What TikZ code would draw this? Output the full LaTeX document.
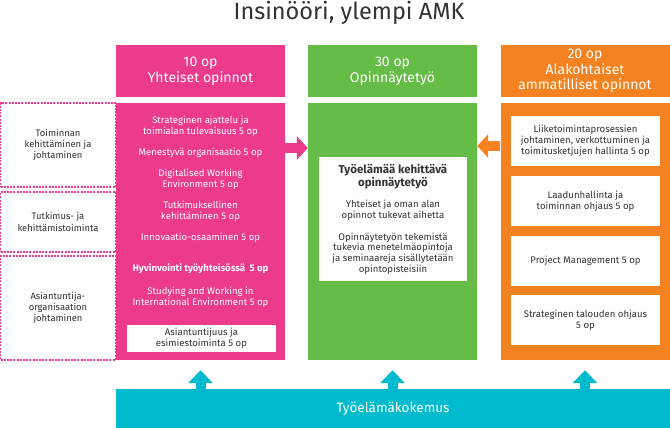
\documentclass[tikz,border=0pt]{standalone}
\usepackage{fontspec}
\setmainfont{Fira Sans}
\usepackage{tikz}
\usetikzlibrary{arrows.meta,positioning}
\definecolor{hpink}{HTML}{EC3A8C}
\definecolor{hgreen}{HTML}{65BC46}
\definecolor{horange}{HTML}{F58220}
\definecolor{hcyan}{HTML}{00BBCD}
\definecolor{txtgray}{HTML}{333333}
\tikzstyle{col}=[rectangle, inner sep=0pt, minimum width=169pt, text=white, align=center]
\tikzstyle{wbox}=[rectangle, fill=white, inner sep=0pt, minimum width=149pt, text=txtgray, align=center,
  font=\fontsize{9.6}{10.8}\selectfont]
\tikzstyle{blockarrow}=[line width=10pt, -{Triangle[length=12pt,width=24pt]}]

\begin{document}
\begin{tikzpicture}[x=1pt,y=-1pt,
  head/.style={col,minimum height=52pt,font=\fontsize{14}{15.5}\selectfont},
  body/.style={col,minimum height=257pt},
  ptxt/.style={text=white,align=center,inner sep=0pt,font=\fontsize{9.6}{10.6}\selectfont},
  gtxt/.style={text=txtgray,align=center,inner sep=0pt,font=\fontsize{9.6}{10.8}\selectfont},
  area/.style={draw=hpink,line width=1.1pt,dash pattern=on 2pt off 1.2pt,minimum width=115pt,
    inner sep=0pt,text=txtgray,align=center,font=\fontsize{9.4}{11.3}\selectfont}]
\useasboundingbox (0,0) rectangle (670,428);

% title
\node[anchor=base,text=txtgray,font=\fontsize{23.5}{28}\selectfont] (title) at (349,20) {Insinööri, ylempi AMK};

% column heads
\node[head,fill=hpink] (commonhead) at (200.5,71) {10 op\\Yhteiset opinnot};
\node[head,fill=hgreen] (thesishead) at (392.5,71) {30 op\\Opinnäytetyö};
\node[head,fill=horange] (fieldhead) at (585,71) {20 op\\Alakohtaiset\\ammatilliset opinnot};

% column bodies
\node[body,fill=hpink] (common) at (200.5,231.5) {};
\node[body,fill=hgreen] (thesis) at (392.5,231.5) {};
\node[body,fill=horange] (field) at (585,231.5) {};

% areas on the left
\node[area,minimum height=84pt] (area1) at (58,145) {Toiminnan\\kehittäminen ja\\johtaminen};
\node[area,minimum height=60pt] (area2) at (58,222) {Tutkimus- ja\\kehittämistoiminta};
\node[area,minimum height=104pt] (area3) at (58,308) {Asiantuntija-\\organisaation\\johtaminen};

% common studies
\node[ptxt] (c1) at (200.5,126.5) {Strateginen ajattelu ja\\toimialan tulevaisuus 5 op};
\node[ptxt] (c2) at (200.5,153) {Menestyvä organisaatio 5 op};
\node[ptxt] (c3) at (200.5,179) {Digitalised Working\\Environment 5 op};
\node[ptxt] (c4) at (200.5,211.5) {Tutkimuksellinen\\kehittäminen 5 op};
\node[ptxt] (c5) at (200.5,238) {Innovaatio-osaaminen 5 op};
\node[ptxt,font=\fontsize{9.6}{10.6}\selectfont\bfseries] (c6) at (200.5,269) {Hyvinvointi työyhteisössä~~5 op};
\node[ptxt] (c7) at (200.5,297) {Studying and Working in\\International Environment 5 op};
\node[wbox,minimum height=27pt] (c8) at (201.5,338.5) {Asiantuntijuus ja\\esimiestoiminta 5 op};

% thesis
\node[wbox,minimum width=148pt,minimum height=124pt] (tbox) at (393,219) {};
\node[gtxt,font=\fontsize{11.5}{13}\selectfont\bfseries] (t1) at (393,176.5) {Työelämää kehittävä\\opinnäytetyö};
\node[gtxt] (t2) at (393,210.5) {Yhteiset ja oman alan\\opinnot tukevat aihetta};
\node[gtxt] (t3) at (393,253.5) {Opinnäytetyön tekemistä\\tukevia menetelmäopintoja\\ja seminaareja sisällytetään\\opintopisteisiin};

% field studies
\foreach \i/\y/\t in {1/141/{Liiketoimintaprosessien\\johtaminen, verkottuminen ja\\toimitusketjujen hallinta 5 op},
  2/201/{Laadunhallinta ja\\toiminnan ohjaus 5 op},
  3/261/{Project Management 5 op},
  4/320/{Strateginen talouden ohjaus\\5 op}} {
  \node[wbox,minimum height=50pt] (f\i) at (585.5,\y) {\t};
}

% work experience
\node[rectangle,fill=hcyan,minimum width=554pt,minimum height=39pt,text=white,
  font=\fontsize{13.5}{15}\selectfont] (work) at (393,408.5) {Työelämäkokemus};

% arrows
\draw[blockarrow,hpink,-{Triangle[length=11pt,width=23pt]}] ([yshift=83.5pt]common.east) -- ([yshift=83.5pt]thesis.west);
\draw[blockarrow,horange,-{Triangle[length=11pt,width=23pt]}] ([yshift=85.5pt]field.west) -- ([yshift=85.5pt]thesis.east);
\foreach \c in {common,thesis,field} {
  \draw[blockarrow,hcyan,-{Triangle[length=13pt,width=24pt]}] (work.north -| \c.south) -- ([yshift=-10pt]\c.south);
}
\end{tikzpicture}
\end{document}
